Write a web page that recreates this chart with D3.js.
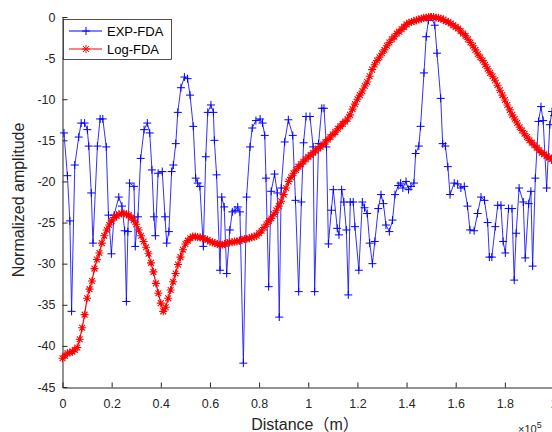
<!DOCTYPE html>
<html>
<head>
<meta charset="utf-8">
<script src="https://cdn.jsdelivr.net/npm/d3@7"></script>
<style>
  html, body { margin: 0; padding: 0; background: #fff; }
  svg { display: block; font-family: "Liberation Sans", Arial, "Noto Sans CJK SC", sans-serif; }
</style>
</head>
<body>
<svg id="chart" width="552" height="432"></svg>
<script>
// EXP-FDA samples (distance in 1e5 m, normalized amplitude in dB)
const expDist = [0.006,0.020,0.030,0.037,0.050,0.066,0.076,0.090,0.101,0.107,
  0.117,0.124,0.142,0.153,0.164,0.178,0.187,0.199,0.210,0.229,
  0.242,0.253,0.260,0.266,0.273,0.291,0.296,0.307,0.318,0.332,
  0.345,0.355,0.364,0.372,0.378,0.389,0.406,0.417,0.424,0.433,
  0.444,0.451,0.461,0.469,0.482,0.496,0.509,0.519,0.532,0.542,
  0.550,0.559,0.573,0.583,0.591,0.604,0.614,0.618,0.627,0.641,
  0.648,0.658,0.668,0.681,0.691,0.702,0.713,0.722,0.736,0.749,
  0.763,0.772,0.787,0.804,0.814,0.823,0.828,0.839,0.849,0.863,
  0.874,0.882,0.890,0.904,0.919,0.937,0.948,0.961,0.972,0.981,
  0.991,1.007,1.020,1.026,1.042,1.055,1.064,1.074,1.082,1.094,
  1.102,1.118,1.125,1.136,1.145,1.155,1.163,1.171,1.183,1.190,
  1.206,1.220,1.229,1.240,1.250,1.261,1.271,1.285,1.296,1.306,
  1.316,1.330,1.343,1.353,1.366,1.376,1.385,1.398,1.408,1.418,
  1.430,1.437,1.450,1.457,1.471,1.480,1.489,1.499,1.515,1.524,
  1.539,1.547,1.558,1.568,1.577,1.594,1.608,1.621,1.635,1.648,
  1.658,1.675,1.689,1.703,1.717,1.730,1.737,1.747,1.761,1.771,
  1.784,1.793,1.802,1.815,1.829,1.838,1.846,1.858,1.875,1.883,
  1.897,1.906,1.913,1.924,1.937,1.947,1.956,1.970,1.983,1.992,
  2.000];
const expAmp = [-14.1,-19.3,-24.8,-35.8,-18.0,-14.6,-12.9,-12.9,-13.7,-15.7,
  -21.4,-27.5,-15.7,-12.4,-12.4,-15.8,-24.1,-28.8,-24.1,-21.9,
  -23.0,-26.0,-34.6,-26.1,-20.2,-20.6,-27.9,-24.3,-17.2,-13.7,
  -12.9,-14.1,-18.6,-24.3,-26.6,-19.0,-18.8,-24.3,-27.5,-26.1,
  -18.8,-18.0,-15.4,-11.6,-8.6,-7.3,-7.5,-9.5,-13.3,-19.6,
  -20.2,-20.6,-27.9,-17.0,-11.6,-10.7,-11.6,-15.0,-19.2,-30.8,
  -21.9,-23.1,-31.2,-25.9,-23.7,-23.5,-23.1,-23.7,-42.1,-21.9,
  -15.8,-13.5,-12.6,-12.4,-12.9,-14.4,-19.6,-32.8,-21.2,-19.1,
  -21.4,-36.5,-20.8,-15.2,-12.5,-14.4,-22.3,-33.4,-22.5,-15.3,
  -12.1,-12.1,-15.8,-33.4,-15.4,-11.1,-11.1,-15.8,-27.6,-23.5,
  -21.0,-25.7,-26.5,-21.0,-22.5,-25.9,-33.8,-22.5,-22.5,-25.5,
  -30.8,-22.5,-23.2,-23.9,-27.5,-30.0,-27.3,-23.3,-21.6,-22.7,
  -25.3,-26.1,-24.7,-21.6,-20.5,-20.2,-20.8,-20.0,-21.0,-20.6,
  -20.2,-16.6,-15.7,-13.3,-6.8,-2.4,-0.4,0.0,-1.0,-4.4,
  -9.9,-15.4,-15.7,-18.2,-21.6,-20.2,-20.3,-20.8,-20.6,-23.0,
  -25.9,-26.0,-23.9,-21.9,-22.3,-25.0,-29.2,-29.2,-25.5,-22.9,
  -22.9,-27.3,-28.7,-23.3,-23.3,-32.0,-26.3,-20.8,-22.5,-29.3,
  -22.7,-21.2,-30.3,-19.6,-12.7,-10.9,-12.6,-20.8,-13.1,-11.5,
  -12.0];

// Log-FDA samples, one every 0.01 (1e5 m)
const logAmp = [-41.5,-41.2,-40.9,-40.8,-40.7,-40.5,-40.2,-39.2,-37.8,-36.2,
  -34.2,-33.1,-32.1,-30.6,-29.5,-28.7,-27.5,-26.6,-25.9,-25.3,
  -24.8,-24.4,-24.2,-24.0,-23.9,-23.9,-24.0,-24.1,-24.4,-24.7,
  -25.2,-25.9,-26.6,-27.3,-28.0,-28.8,-29.9,-31.0,-32.4,-33.6,
  -34.8,-35.8,-35.3,-34.2,-33.2,-32.2,-31.2,-30.1,-29.2,-28.3,
  -27.6,-27.2,-26.9,-26.7,-26.7,-26.8,-26.8,-26.9,-27.0,-27.1,
  -27.3,-27.4,-27.5,-27.6,-27.7,-27.7,-27.6,-27.5,-27.4,-27.4,
  -27.3,-27.3,-27.2,-27.1,-27.0,-27.0,-26.9,-26.8,-26.7,-26.6,
  -26.3,-26.0,-25.6,-25.2,-24.8,-24.5,-24.0,-23.5,-23.0,-22.4,
  -21.6,-20.8,-20.0,-19.5,-19.0,-18.6,-18.2,-17.9,-17.6,-17.3,
  -17.0,-16.8,-16.5,-16.3,-16.0,-15.8,-15.5,-15.2,-14.9,-14.6,
  -14.3,-14.0,-13.6,-13.3,-13.0,-12.7,-12.4,-11.9,-11.2,-10.6,
  -10.0,-9.5,-9.0,-8.4,-7.9,-7.2,-6.4,-5.8,-5.3,-4.9,
  -4.4,-4.0,-3.5,-3.1,-2.7,-2.4,-2.0,-1.8,-1.5,-1.2,
  -0.9,-0.7,-0.6,-0.5,-0.4,-0.3,-0.2,-0.1,-0.1,0.0,
  0.0,0.0,-0.1,-0.1,-0.2,-0.3,-0.5,-0.6,-0.8,-1.0,
  -1.2,-1.4,-1.7,-2.0,-2.3,-2.7,-3.1,-3.5,-4.0,-4.5,
  -4.9,-5.3,-5.8,-6.3,-6.8,-7.2,-7.7,-8.3,-8.9,-9.5,
  -10.1,-10.7,-11.3,-11.9,-12.4,-12.9,-13.4,-13.8,-14.2,-14.6,
  -15.0,-15.3,-15.6,-15.9,-16.2,-16.5,-16.7,-16.9,-17.1,-17.3,
  -17.5];
const logDist = logAmp.map((_, i) => i / 100);

const xTicks = [0, 0.2, 0.4, 0.6, 0.8, 1, 1.2, 1.4, 1.6, 1.8, 2];
const yTicks = [0, -5, -10, -15, -20, -25, -30, -35, -40, -45];
const seriesNames = ["EXP-FDA", "Log-FDA"];

const axisColor = "#262626";
const svg = d3.select("#chart");

const x = d3.scaleLinear().domain([0, 2]).range([62.5, 554]);
const y = d3.scaleLinear().domain([-45, 0]).range([387, 17]);

// axes (MATLAB style: inward ticks, no box)
const yAxis = d3.axisLeft(y).tickValues(yTicks).tickFormat(d => String(d))
  .tickSizeInner(-5).tickSizeOuter(0).tickPadding(7);
const xAxis = d3.axisBottom(x).tickValues(xTicks).tickFormat(d => String(d))
  .tickSizeInner(-5).tickSizeOuter(0).tickPadding(12);

const gy = svg.append("g").attr("transform", "translate(62.5,0)").call(yAxis);
const gx = svg.append("g").attr("transform", "translate(0,387.5)").call(xAxis);
[gx, gy].forEach(g => {
  g.selectAll("path, line").attr("stroke", axisColor);
  g.selectAll("text").attr("fill", axisColor).style("font-size", "12.5px")
    .style("font-family", "\"Liberation Sans\", Arial, sans-serif");
});

const plus = "M-4,0H4M0,-4V4";
const star = "M-4,0H4M0,-4V4M-2.9,-2.9L2.9,2.9M-2.9,2.9L2.9,-2.9";

const line = d3.line().x(d => x(d[0])).y(d => y(d[1]));

// EXP-FDA
const expData = expDist.map((d, i) => [d, expAmp[i]]);
svg.append("path").datum(expData).attr("d", line)
  .attr("fill", "none").attr("stroke", "#1a1aff").attr("stroke-width", 0.9);
svg.append("g").selectAll("path").data(expData).join("path")
  .attr("d", plus).attr("transform", d => `translate(${x(d[0])},${y(d[1])})`)
  .attr("fill", "none").attr("stroke", "#0000ff").attr("stroke-width", 1);

// Log-FDA
const logData = logDist.map((d, i) => [d, logAmp[i]]);
svg.append("path").datum(logData).attr("d", line)
  .attr("fill", "none").attr("stroke", "#ff0000").attr("stroke-width", 1.2);
svg.append("g").selectAll("path").data(logData).join("path")
  .attr("d", star).attr("transform", d => `translate(${x(d[0])},${y(d[1])})`)
  .attr("fill", "none").attr("stroke", "#ff0000").attr("stroke-width", 1.1);

// legend
const legend = svg.append("g");
legend.append("rect").attr("x", 63.5).attr("y", 19.5).attr("width", 108).attr("height", 40)
  .attr("fill", "#fff").attr("stroke", axisColor).attr("stroke-width", 0.8);
const legendRows = [
  { name: seriesNames[0], color: "#0000ff", marker: plus, yPos: 31 },
  { name: seriesNames[1], color: "#ff0000", marker: star, yPos: 49 },
];
legendRows.forEach(r => {
  legend.append("line").attr("x1", 69).attr("x2", 102).attr("y1", r.yPos).attr("y2", r.yPos)
    .attr("stroke", r.color).attr("stroke-width", 1);
  legend.append("path").attr("d", r.marker).attr("transform", `translate(86,${r.yPos})`)
    .attr("fill", "none").attr("stroke", r.color).attr("stroke-width", 1);
  legend.append("text").attr("x", 107).attr("y", r.yPos + 4.5).text(r.name)
    .style("font-size", "13px").attr("fill", "#000");
});

// axis labels
svg.append("text").attr("x", 305).attr("y", 430).attr("text-anchor", "middle")
  .style("font-size", "16px").attr("fill", axisColor).text("Distance（m）");
svg.append("text").attr("transform", "translate(24,200) rotate(-90)")
  .attr("text-anchor", "middle").style("font-size", "16px").attr("fill", axisColor)
  .text("Normalized amplitude");
const exp = svg.append("text").attr("x", 518).attr("y", 433)
  .style("font-size", "11px").attr("fill", axisColor).text("×10");
exp.append("tspan").attr("dy", -5).style("font-size", "9px").text("5");
</script>
</body>
</html>
